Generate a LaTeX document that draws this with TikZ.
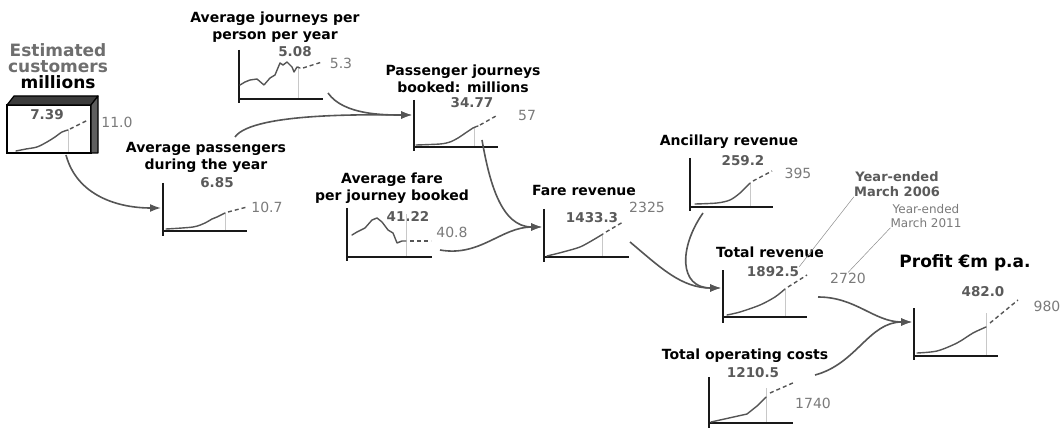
\documentclass[tikz,border=0pt]{standalone}
\usepackage{fontspec}
\setmainfont{DejaVu Sans}
\usetikzlibrary{arrows.meta}
\definecolor{linkgray}{HTML}{555555}
\definecolor{valgray}{HTML}{5A5A5A}
\definecolor{outgray}{HTML}{7A7A7A}
\definecolor{custgray}{HTML}{6E6E6E}
\definecolor{guidegray}{HTML}{C8C8C8}
\definecolor{lidgray}{HTML}{3C3C3C}
\definecolor{sidegray}{HTML}{5E5E5E}

\begin{document}
\begin{tikzpicture}
[every node/.style={inner sep=0pt},
 headline/.style={font=\fontsize{14}{17}\selectfont\bfseries, align=center},
 value/.style={font=\fontsize{13.5}{15}\selectfont\bfseries, color=valgray},
 outlook/.style={font=\fontsize{14}{16}\selectfont, color=outgray},
 chartaxis/.style={line width=2.4pt, color=black!90},
 trend/.style={line width=1.4pt, color=linkgray, line join=round, line cap=round},
 forecast/.style={line width=1.4pt, color=linkgray, dash pattern=on 4pt off 3pt},
 guide/.style={line width=0.6pt, color=guidegray},
 link/.style={line width=1.6pt, color=linkgray, -{Latex[length=11pt,width=8pt]}},
 leader/.style={line width=0.5pt, color=guidegray!70!black}]
\useasboundingbox (0pt,0pt) rectangle (1064pt,-430pt);

% titles
\node (t-cust) [headline, font=\fontsize{17}{16}\selectfont\bfseries] at (58pt,-66pt) {\textcolor{custgray}{Estimated}\\\textcolor{custgray}{customers}\\millions};
\node (t-jour) [headline] at (275pt,-27pt) {Average journeys per\\person per year};
\node (t-book) [headline] at (463pt,-79pt) {Passenger journeys\\booked: millions};
\node (t-pass) [headline] at (206pt,-157pt) {Average passengers\\during the year};
\node (t-fare) [headline] at (392pt,-188pt) {Average fare\\per journey booked};
\node (t-frev) [headline, anchor=base] at (584pt,-196pt) {Fare revenue};
\node (t-anc) [headline, anchor=base] at (729pt,-146pt) {Ancillary revenue};
\node (t-trev) [headline, anchor=base] at (770pt,-257pt) {Total revenue};
\node (t-cost) [headline, anchor=base] at (745pt,-359pt) {Total operating costs};
\node (t-prof) [headline, font=\fontsize{17}{20}\selectfont\bfseries, anchor=base] at (965pt,-267pt) {Profit €m p.a.};
\node (yr06) [font=\fontsize{13}{15}\selectfont\bfseries, color=valgray, align=center] at (897pt,-184pt) {Year-ended\\March 2006};
\node (yr11) [font=\fontsize{12}{14}\selectfont, color=outgray, align=center] at (926pt,-216pt) {Year-ended\\March 2011};

% customer box
\node (box) [draw=black, line width=2.4pt, fill=white, outer sep=0pt, minimum width=84pt, minimum height=48pt] at (49pt,-129pt) {};
\filldraw [fill=lidgray, draw=black, line width=1.2pt, line join=round] (box.north west) -- ++(7pt,9pt) -- ++(84pt,0pt) -- (box.north east) -- cycle;
\filldraw [fill=sidegray, draw=black, line width=1.2pt, line join=round] (box.north east) -- ++(7pt,9pt) -- ++(0pt,-57pt) -- (box.south east) -- cycle;

% values 2006 and 2011
\node (v-cust) [value] at (47pt,-115pt) {7.39};
\node (f-cust) [outlook] at (117pt,-122pt) {11.0};
\node (v-jour) [value] at (295pt,-52pt) {5.08};
\node (f-jour) [outlook] at (341pt,-63pt) {5.3};
\node (v-book) [value] at (472pt,-103pt) {34.77};
\node (f-book) [outlook] at (527pt,-115pt) {57};
\node (v-pass) [value] at (217pt,-183pt) {6.85};
\node (f-pass) [outlook] at (267pt,-207pt) {10.7};
\node (v-fare) [value] at (408pt,-216pt) {41.22};
\node (f-fare) [outlook] at (452pt,-232pt) {40.8};
\node (v-frev) [value] at (592pt,-218pt) {1433.3};
\node (f-frev) [outlook] at (647pt,-207pt) {2325};
\node (v-anc) [value] at (743pt,-161pt) {259.2};
\node (f-anc) [outlook] at (798pt,-173pt) {395};
\node (v-trev) [value] at (773pt,-272pt) {1892.5};
\node (f-trev) [outlook] at (848pt,-278pt) {2720};
\node (v-cost) [value] at (753pt,-373pt) {1210.5};
\node (f-cost) [outlook] at (813pt,-403pt) {1740};
\node (v-prof) [value] at (983pt,-292pt) {482.0};
\node (f-prof) [outlook] at (1047pt,-306pt) {980};

% guides
\draw [guide] (68pt,-130pt) -- (68pt,-152pt);
\draw [guide] (298pt,-66pt) -- (298pt,-98pt);
\draw [guide] (474pt,-127pt) -- (474pt,-146pt);
\draw [guide] (225pt,-213pt) -- (225pt,-230pt);
\draw [guide] (406pt,-214pt) -- (406pt,-256pt);
\draw [guide] (602pt,-235pt) -- (602pt,-256pt);
\draw [guide] (750pt,-183pt) -- (750pt,-206pt);
\draw [guide] (785pt,-289pt) -- (785pt,-316pt);
\draw [guide] (766pt,-388pt) -- (766pt,-422pt);
\draw [guide] (986pt,-313pt) -- (986pt,-355pt);

% axes
\draw [chartaxis] (239pt,-50pt) -- (239pt,-103pt);
\draw [chartaxis] (239pt,-99pt) -- (323pt,-99pt);
\draw [chartaxis] (414pt,-100pt) -- (414pt,-151pt);
\draw [chartaxis] (414pt,-147pt) -- (498pt,-147pt);
\draw [chartaxis] (163pt,-183pt) -- (163pt,-236pt);
\draw [chartaxis] (163pt,-231pt) -- (247pt,-231pt);
\draw [chartaxis] (347pt,-208pt) -- (347pt,-261pt);
\draw [chartaxis] (347pt,-257pt) -- (432pt,-257pt);
\draw [chartaxis] (544pt,-209pt) -- (544pt,-262pt);
\draw [chartaxis] (544pt,-257pt) -- (629pt,-257pt);
\draw [chartaxis] (690pt,-158pt) -- (690pt,-211pt);
\draw [chartaxis] (690pt,-207pt) -- (773pt,-207pt);
\draw [chartaxis] (723pt,-270pt) -- (723pt,-323pt);
\draw [chartaxis] (723pt,-317pt) -- (807pt,-317pt);
\draw [chartaxis] (709pt,-377pt) -- (709pt,-428pt);
\draw [chartaxis] (709pt,-423pt) -- (793pt,-423pt);
\draw [chartaxis] (914pt,-308pt) -- (914pt,-360pt);
\draw [chartaxis] (914pt,-356pt) -- (998pt,-356pt);

% trends
\draw [trend] plot [smooth] coordinates {(16pt,-151pt) (26pt,-149pt) (37pt,-147pt) (47pt,-142pt) (55pt,-137pt) (62pt,-132pt) (68pt,-130pt)};
\draw [forecast] (70pt,-129pt) -- (88pt,-120pt);
\draw [trend] (240pt,-85pt) -- (245pt,-82pt) -- (250pt,-80pt) -- (257pt,-79pt) -- (264pt,-85pt) -- (270pt,-78pt) -- (275pt,-75pt) -- (280pt,-63pt) -- (283pt,-65pt) -- (287pt,-62pt) -- (292pt,-67pt) -- (294pt,-72pt) -- (297pt,-67pt) -- (300pt,-68pt);
\draw [forecast] (303pt,-68pt) -- (322pt,-62pt);
\draw [trend] plot [smooth] coordinates {(416pt,-145pt) (440pt,-144pt) (450pt,-142pt) (458pt,-138pt) (464pt,-134pt) (473pt,-128pt) (478pt,-126pt)};
\draw [forecast] (480pt,-125pt) -- (496pt,-116pt);
\draw [trend] plot [smooth] coordinates {(166pt,-229pt) (193pt,-227pt) (205pt,-223pt) (212pt,-219pt) (217pt,-217pt) (225pt,-213pt)};
\draw [forecast] (228pt,-212pt) -- (247pt,-207pt);
\draw [trend] (352pt,-235pt) -- (357pt,-232pt) -- (365pt,-228pt) -- (372pt,-220pt) -- (377pt,-218pt) -- (382pt,-222pt) -- (388pt,-230pt) -- (393pt,-233pt) -- (397pt,-243pt) -- (402pt,-241pt) -- (406pt,-241pt);
\draw [forecast] (410pt,-241pt) -- (431pt,-241pt);
\draw [trend] plot [smooth] coordinates {(547pt,-256pt) (563pt,-252pt) (580pt,-247pt) (593pt,-240pt) (603pt,-234pt)};
\draw [forecast] (606pt,-232pt) -- (623pt,-222pt);
\draw [trend] plot [smooth] coordinates {(695pt,-204pt) (717pt,-203pt) (730pt,-200pt) (740pt,-193pt) (750pt,-183pt)};
\draw [forecast] (753pt,-181pt) -- (772pt,-171pt);
\draw [trend] plot [smooth] coordinates {(727pt,-315pt) (740pt,-312pt) (760pt,-305pt) (775pt,-297pt) (785pt,-289pt)};
\draw [forecast] (788pt,-287pt) -- (807pt,-275pt);
\draw [trend] (711pt,-422pt) -- (747pt,-414pt) -- (757pt,-406pt) -- (766pt,-397pt);
\draw [forecast] (770pt,-393pt) -- (795pt,-382pt);
\draw [trend] plot [smooth] coordinates {(917pt,-353pt) (937pt,-351pt) (957pt,-343pt) (973pt,-333pt) (986pt,-327pt)};
\draw [forecast] (990pt,-323pt) -- (1018pt,-300pt);

% link ends
\coordinate (out-cust) at (66pt,-155pt);
\coordinate (out-pass) at (235pt,-137pt);
\coordinate (out-jour) at (328pt,-93pt);
\coordinate (out-book) at (482pt,-140pt);
\coordinate (out-fare) at (440pt,-250pt);
\coordinate (out-frev) at (630pt,-242pt);
\coordinate (out-anc) at (703pt,-213pt);
\coordinate (out-trev) at (818pt,-297pt);
\coordinate (out-cost) at (815pt,-375pt);
\coordinate (in-pass) at (161pt,-208pt);
\coordinate (in-book) at (412pt,-115pt);
\coordinate (in-frev) at (542pt,-227pt);
\coordinate (in-trev) at (721pt,-288pt);
\coordinate (in-prof) at (912pt,-322pt);

% links
\draw [link] (out-cust) to [out=-75, in=180] (in-pass);
\draw [link] (out-pass) to [out=55, in=180, looseness=0.45] (in-book);
\draw [link] (out-jour) to [out=-55, in=180, looseness=0.8] (in-book);
\draw [link] (out-book) to [out=-80, in=180] (in-frev);
\draw [link] (out-fare) to [out=-10, in=180] (in-frev);
\draw [link] (out-frev) to [out=-40, in=180] (in-trev);
\draw [link] (out-anc) to [out=-125, in=180, looseness=1.4] (in-trev);
\draw [link] (out-trev) to [out=0, in=180] (in-prof);
\draw [link] (out-cost) to [out=15, in=180] (in-prof);

% leaders
\draw [leader] (yr06.south west) -- (v-trev.north east);
\draw [leader] (yr11.south west) -- (f-trev.north);
\end{tikzpicture}
\end{document}
